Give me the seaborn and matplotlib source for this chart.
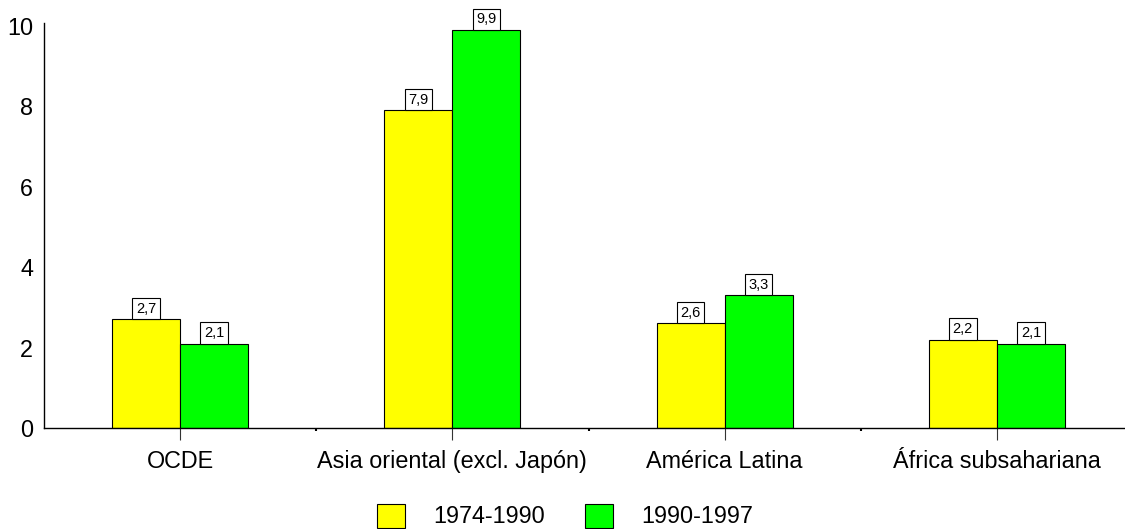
import matplotlib
matplotlib.use("Agg")
import matplotlib.pyplot as plt
import seaborn as sns
import pandas as pd

regions = ["OCDE", "Asia oriental (excl. Japón)", "América Latina", "África subsahariana"]
periods = ["1974-1990", "1990-1997"]
values_1974_1990 = [2.7, 7.9, 2.6, 2.2]
values_1990_1997 = [2.1, 9.9, 3.3, 2.1]
colors = ["#FFFF00", "#00FF00"]

df = pd.DataFrame({
    "region": regions * 2,
    "periodo": [periods[0]] * len(regions) + [periods[1]] * len(regions),
    "valor": values_1974_1990 + values_1990_1997,
})

sns.set_theme(style="white", rc={"text.color": "black", "xtick.color": "black",
                                 "ytick.color": "black", "axes.labelcolor": "black"})
plt.rcParams["font.family"] = ["Liberation Sans", "DejaVu Sans"]

fig = plt.figure(figsize=(11.25, 5.29), dpi=100)
ax = fig.add_axes([44 / 1125, 101 / 529, 1089 / 1125, 405 / 529])

sns.barplot(data=df, x="region", y="valor", hue="periodo", order=regions,
            hue_order=periods, palette=colors, saturation=1, width=0.5,
            errorbar=None, edgecolor="black", linewidth=0.8, ax=ax)

for cont in ax.containers:
    labs = [f"{v:.1f}".replace(".", ",") for v in cont.datavalues]
    ax.bar_label(cont, labels=labs, fontsize=10.5, padding=2.6, color="black",
                 bbox=dict(boxstyle="square,pad=0.25", fc="white", ec="black", lw=0.8))

ax.set_xlim(-0.5, 3.5)
ax.set_ylim(0, 10.07)
ax.set_yticks([0, 2, 4, 6, 8, 10])
ax.set_xlabel("")
ax.set_ylabel("")
ax.set_xticks([0.5, 1.5, 2.5], minor=True)
ax.tick_params(axis="x", which="major", length=8.5, width=0.8, color="#333333",
               direction="out", bottom=True, labelsize=16.8, labelcolor="black", pad=7)
ax.tick_params(axis="x", which="minor", length=2, width=1.5, color="black",
               direction="out", bottom=True)
ax.tick_params(axis="y", length=0, labelsize=16.8, labelcolor="black", pad=8)
for s in ["top", "right"]:
    ax.spines[s].set_visible(False)
for s in ["left", "bottom"]:
    ax.spines[s].set_color("black")
    ax.spines[s].set_linewidth(1)

handles, labels = ax.get_legend_handles_labels()
ax.get_legend().remove()
fig.legend(handles, labels, loc="center", bbox_to_anchor=(565 / 1125, 1 - 516 / 529),
           ncol=2, frameon=False, fontsize=16.8, handlelength=1.2, handleheight=1.2,
           handletextpad=1.2, columnspacing=1.75, borderpad=0, labelcolor="black")

fig.savefig("out.png", dpi=100)
